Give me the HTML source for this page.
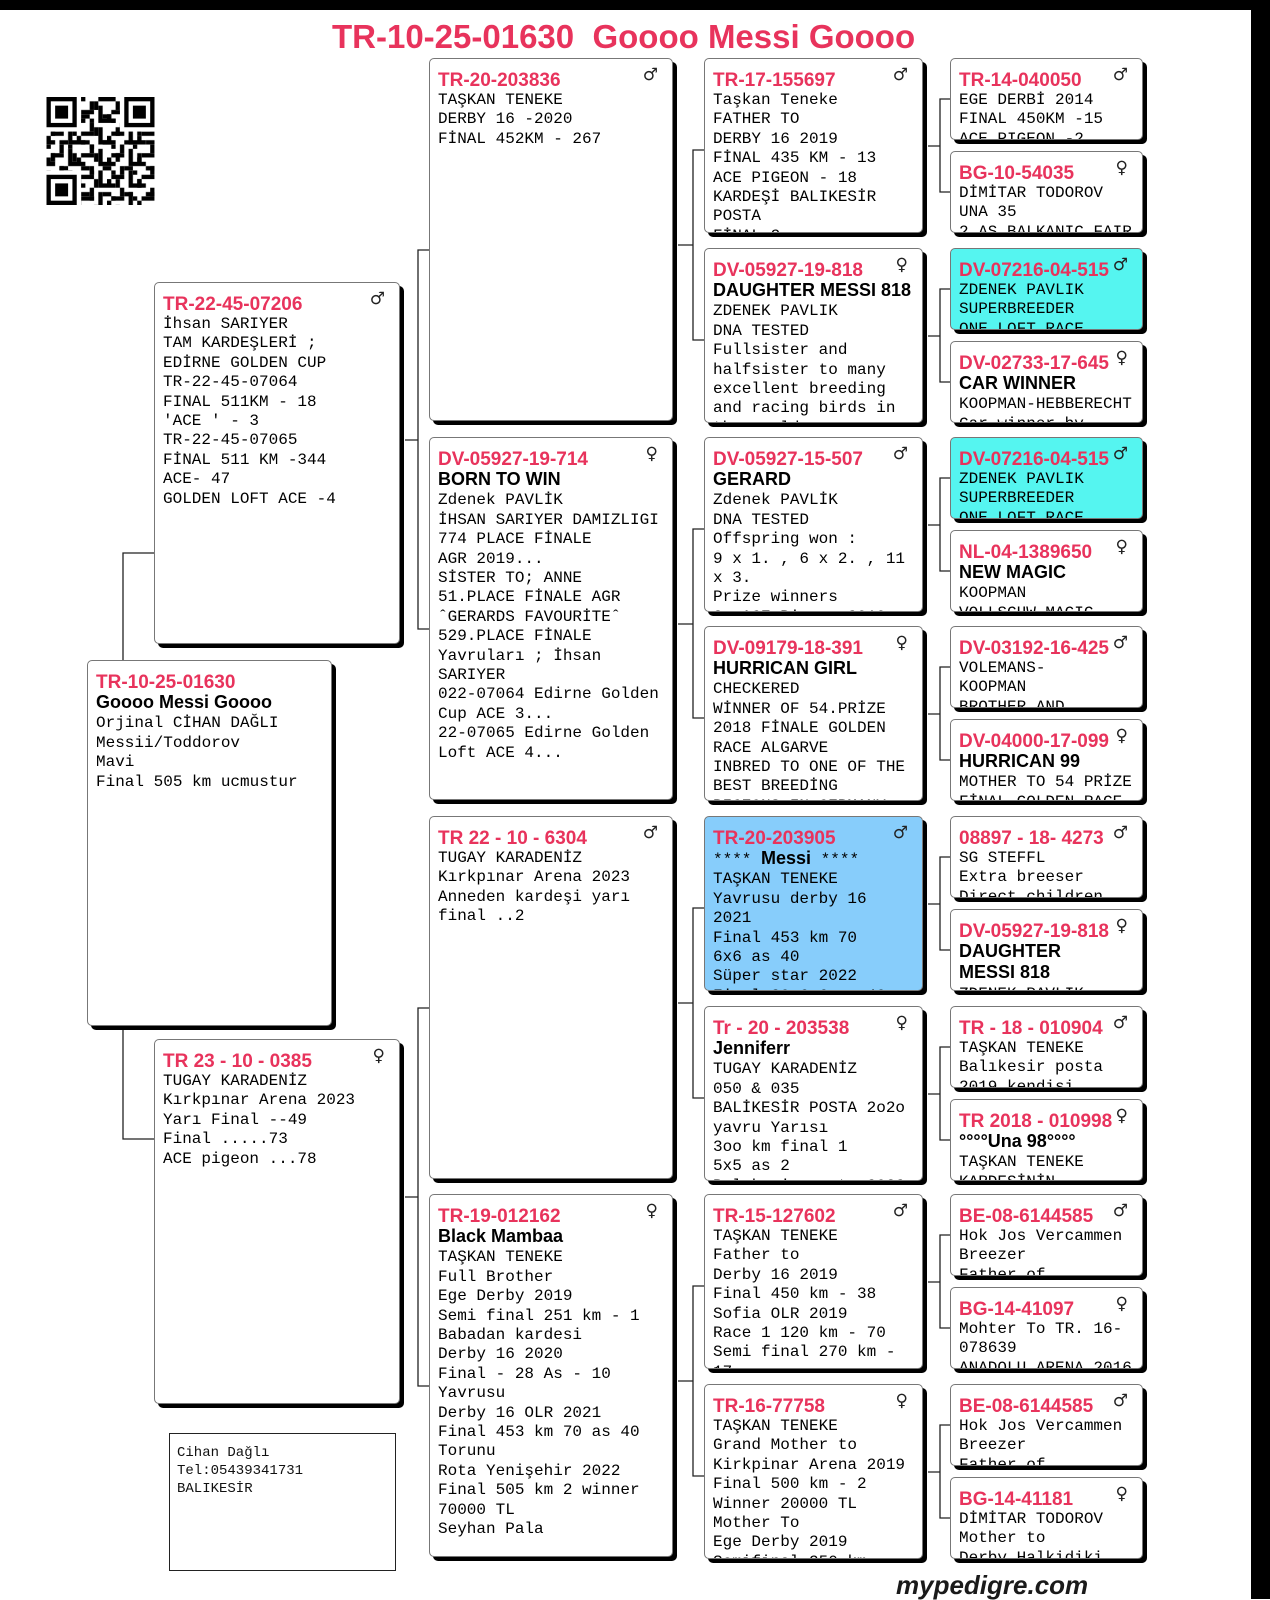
<!DOCTYPE html>
<html><head><meta charset="utf-8">
<style>
html,body{margin:0;padding:0}
body{width:1270px;height:1599px;position:relative;background:#fff;overflow:hidden;font-family:"Liberation Mono","Noto Sans CJK SC",monospace}
.b{position:absolute;background:#fff;border:1px solid #777;border-radius:5px;box-shadow:4px 4px 0 #000;overflow:hidden;padding:12px 4px 0 8px;box-sizing:border-box;font:16px/19.4px "Liberation Mono",monospace;color:#000;white-space:nowrap}
.id{color:#e8335c;font:bold 19px/20px "Liberation Sans",sans-serif;display:block}
.n{font:bold 18px/19.4px "Liberation Sans",sans-serif;color:#000}
.g{position:absolute;right:14px;top:6px;font:17px "DejaVu Sans",sans-serif;color:#222}
.c1{left:154px;width:246px}
.c2{left:429px;width:244px;height:363px}
.c3{left:704px;width:219px;height:175px}
.c4{left:950px;width:193px;height:82px}
.cy{background:#55f5f0}
.bl{background:#87cdfb}
</style></head><body>
<div style="position:absolute;left:0;top:0;width:1270px;height:10px;background:#000"></div>
<div style="position:absolute;left:1251px;top:0;width:19px;height:1599px;background:#000"></div>
<div style="position:absolute;left:332px;top:18px;color:#e8335c;font:bold 33px 'Liberation Sans',sans-serif;white-space:pre">TR-10-25-01630  Goooo Messi Goooo</div>

<svg style="position:absolute;left:46px;top:97px" width="109" height="108" viewBox="0 0 25 25">
<defs><pattern id="p" width="7" height="5" patternUnits="userSpaceOnUse"><rect x="0" y="0" width="2" height="1"/><rect x="3" y="1" width="1" height="2"/><rect x="5" y="0" width="2" height="1"/><rect x="1" y="3" width="3" height="1"/><rect x="5" y="2" width="1" height="3"/><rect x="0" y="4" width="1" height="1"/></pattern>
<pattern id="q" width="5" height="6" patternUnits="userSpaceOnUse"><rect x="1" y="1" width="1" height="2"/><rect x="3" y="4" width="2" height="1"/><rect x="0" y="5" width="1" height="1"/></pattern></defs>
<rect x="0" y="0" width="25" height="25" fill="url(#p)"/><rect x="0" y="0" width="25" height="25" fill="url(#q)"/>
<rect x="0" y="0" width="8" height="8" fill="#fff"/><rect x="17" y="0" width="8" height="8" fill="#fff"/><rect x="0" y="17" width="8" height="8" fill="#fff"/>
<g fill="none" stroke="#000" stroke-width="1"><rect x="0.5" y="0.5" width="6" height="6"/><rect x="18.5" y="0.5" width="6" height="6"/><rect x="0.5" y="18.5" width="6" height="6"/></g>
<rect x="2" y="2" width="3" height="3"/><rect x="20" y="2" width="3" height="3"/><rect x="2" y="20" width="3" height="3"/>
</svg>

<svg style="position:absolute;left:0;top:0" width="1270" height="1599" fill="none" stroke="#222" stroke-width="1.3">
<path d="M154 553H123V660M123 1030V1139H154"/>
<path d="M429 250H418V629H429M405 440H418"/>
<path d="M429 1008H418V1386H429M405 1197H418"/>
<path d="M704 150H693V340H704M678 245H693"/>
<path d="M704 529H693V718H704M678 624H693"/>
<path d="M704 908H693V1098H704M678 1003H693"/>
<path d="M704 1286H693V1476H704M678 1381H693"/>
<path d="M950 99H940V192H950M928 146H940"/>
<path d="M950 289H940V382H950M928 336H940"/>
<path d="M950 478H940V571H950M928 525H940"/>
<path d="M950 667H940V760H950M928 714H940"/>
<path d="M950 857H940V950H950M928 904H940"/>
<path d="M950 1047H940V1140H950M928 1094H940"/>
<path d="M950 1235H940V1328H950M928 1282H940"/>
<path d="M950 1425H940V1518H950M928 1472H940"/>
</svg>

<div class="b" style="left:87px;top:660px;width:245px;height:366px"><span class="id">TR-10-25-01630</span><span class="n">Goooo Messi Goooo</span><br>Orjinal CİHAN DAĞLI<br>Messii/Toddorov<br>Mavi<br>Final 505 km ucmustur</div>

<div class="b c1" style="top:282px;height:362px"><span class="g">♂</span><span class="id">TR-22-45-07206</span>İhsan SARIYER<br>TAM KARDEŞLERİ ;<br>EDİRNE GOLDEN CUP<br>TR-22-45-07064<br>FINAL 511KM - 18<br>'ACE ' - 3<br>TR-22-45-07065<br>FİNAL 511 KM -344<br>ACE- 47<br>GOLDEN LOFT ACE -4</div>
<div class="b c1" style="top:1039px;height:365px"><span class="g">♀</span><span class="id">TR 23 - 10 - 0385</span>TUGAY KARADENİZ<br>Kırkpınar Arena 2023<br>Yarı Final --49<br>Final .....73<br>ACE pigeon ...78</div>

<div class="b c2" style="top:58px"><span class="g">♂</span><span class="id">TR-20-203836</span>TAŞKAN TENEKE<br>DERBY 16 -2020<br>FİNAL 452KM - 267</div>
<div class="b c2" style="top:437px"><span class="g">♀</span><span class="id">DV-05927-19-714</span><span class="n">BORN TO WIN</span><br>Zdenek PAVLİK<br>İHSAN SARIYER DAMIZLIGI<br>774 PLACE FİNALE<br>AGR 2019...<br>SİSTER TO; ANNE<br>51.PLACE FİNALE AGR<br>ˆGERARDS FAVOURİTEˆ<br>529.PLACE FİNALE<br>Yavruları ; İhsan<br>SARIYER<br>022-07064 Edirne Golden<br>Cup  ACE 3...<br>22-07065 Edirne Golden<br>Loft ACE 4...</div>
<div class="b c2" style="top:816px"><span class="g">♂</span><span class="id">TR 22 - 10 - 6304</span>TUGAY KARADENİZ<br>Kırkpınar Arena 2023<br>Anneden kardeşi yarı<br>final ..2</div>
<div class="b c2" style="top:1194px"><span class="g">♀</span><span class="id">TR-19-012162</span><span class="n">Black Mambaa</span><br>TAŞKAN TENEKE<br>Full Brother<br>Ege Derby 2019<br>Semi final 251 km - 1<br>Babadan kardesi<br>Derby 16 2020<br>Final - 28 As - 10<br>Yavrusu<br>Derby 16 OLR 2021<br>Final 453 km 70 as 40<br>Torunu<br>Rota Yenişehir 2022<br>Final 505 km 2 winner<br>70000 TL<br>Seyhan Pala</div>

<div class="b c3" style="top:58px"><span class="g">♂</span><span class="id">TR-17-155697</span>Taşkan Teneke<br>FATHER TO<br>DERBY 16 2019<br>FİNAL 435 KM - 13<br>ACE PIGEON  - 18<br>KARDEŞİ BALIKESİR<br>POSTA<br>FİNAL-2</div>
<div class="b c3" style="top:248px"><span class="g">♀</span><span class="id">DV-05927-19-818</span><span class="n">DAUGHTER MESSI 818</span><br>ZDENEK PAVLIK<br>DNA TESTED<br>Fullsister and<br>halfsister to many<br>excellent breeding<br>and racing birds in<br>the world</div>
<div class="b c3" style="top:437px"><span class="g">♂</span><span class="id">DV-05927-15-507</span><span class="n">GERARD</span><br>Zdenek PAVLİK<br>DNA TESTED<br>Offspring won :<br>9 x 1. , 6 x 2. , 11<br>x 3.<br>Prize winners<br>2. ACE Pigeon 2019</div>
<div class="b c3" style="top:626px"><span class="g">♀</span><span class="id">DV-09179-18-391</span><span class="n">HURRICAN GIRL</span><br>CHECKERED<br>WİNNER OF 54.PRİZE<br>2018 FİNALE GOLDEN<br>RACE ALGARVE<br>INBRED TO ONE OF THE<br>BEST BREEDİNG<br>PIGEONS IN GERMANY</div>
<div class="b c3 bl" style="top:816px"><span class="g">♂</span><span class="id">TR-20-203905</span>**** <span class="n">Messi</span> ****<br>TAŞKAN TENEKE<br>Yavrusu derby 16<br>2021<br>Final 453 km 70<br>6x6 as 40<br>Süper star 2022<br>Final 20 6 6 as 40</div>
<div class="b c3" style="top:1006px"><span class="g">♀</span><span class="id">Tr - 20 - 203538</span><span class="n">Jenniferr</span><br>TUGAY KARADENİZ<br>050 &amp; 035<br>BALİKESİR POSTA 2o2o<br>yavru Yarısı<br>3oo km final 1<br>5x5 as 2<br>Balıkesir posta 2022</div>
<div class="b c3" style="top:1194px"><span class="g">♂</span><span class="id">TR-15-127602</span>TAŞKAN TENEKE<br>Father to<br>Derby 16 2019<br>Final 450 km - 38<br>Sofia OLR 2019<br>Race 1 120 km - 70<br>Semi final 270 km -<br>17</div>
<div class="b c3" style="top:1384px"><span class="g">♀</span><span class="id">TR-16-77758</span>TAŞKAN TENEKE<br>Grand Mother to<br>Kirkpinar Arena 2019<br>Final 500 km - 2<br>Winner 20000 TL<br>Mother To<br>Ege Derby 2019<br>Semifinal 250 km -</div>

<div class="b c4" style="top:58px"><span class="g">♂</span><span class="id">TR-14-040050</span>EGE DERBİ 2014<br>FINAL 450KM -15<br>ACE PIGEON -2</div>
<div class="b c4" style="top:151px"><span class="g">♀</span><span class="id">BG-10-54035</span>DİMİTAR TODOROV<br>UNA 35<br>2 AS BALKANIC FAIR</div>
<div class="b c4 cy" style="top:248px"><span class="g">♂</span><span class="id">DV-07216-04-515</span>ZDENEK PAVLIK<br>SUPERBREEDER<br>ONE LOFT RACE</div>
<div class="b c4" style="top:341px"><span class="g">♀</span><span class="id">DV-02733-17-645</span><span class="n">CAR WINNER</span><br>KOOPMAN-HEBBERECHT<br>Car winner by</div>
<div class="b c4 cy" style="top:437px"><span class="g">♂</span><span class="id">DV-07216-04-515</span>ZDENEK PAVLIK<br>SUPERBREEDER<br>ONE LOFT RACE</div>
<div class="b c4" style="top:530px"><span class="g">♀</span><span class="id">NL-04-1389650</span><span class="n">NEW MAGIC</span><br>KOOPMAN<br>VOLLSCHW MAGIC</div>
<div class="b c4" style="top:626px"><span class="g">♂</span><span class="id">DV-03192-16-425</span>VOLEMANS-<br>KOOPMAN<br>BROTHER AND</div>
<div class="b c4" style="top:719px"><span class="g">♀</span><span class="id">DV-04000-17-099</span><span class="n">HURRICAN 99</span><br>MOTHER TO 54 PRİZE<br>FİNAL GOLDEN RACE</div>
<div class="b c4" style="top:816px"><span class="g">♂</span><span class="id">08897 - 18- 4273</span>SG STEFFL<br>Extra breeser<br>Direct children</div>
<div class="b c4" style="top:909px"><span class="g">♀</span><span class="id">DV-05927-19-818</span><span class="n">DAUGHTER</span><br><span class="n">MESSI 818</span><br>ZDENEK PAVLIK</div>
<div class="b c4" style="top:1006px"><span class="g">♂</span><span class="id">TR - 18 - 010904</span>TAŞKAN TENEKE<br>Balıkesir posta<br>2019 kendisi</div>
<div class="b c4" style="top:1099px"><span class="g">♀</span><span class="id">TR 2018 - 010998</span><span class="n">°°°°Una 98°°°°</span><br>TAŞKAN TENEKE<br>KARDEŞİNİN</div>
<div class="b c4" style="top:1194px"><span class="g">♂</span><span class="id">BE-08-6144585</span>Hok Jos Vercammen<br>Breezer<br>Father of</div>
<div class="b c4" style="top:1287px"><span class="g">♀</span><span class="id">BG-14-41097</span>Mohter To TR. 16-<br>078639<br>ANADOLU ARENA 2016</div>
<div class="b c4" style="top:1384px"><span class="g">♂</span><span class="id">BE-08-6144585</span>Hok Jos Vercammen<br>Breezer<br>Father of</div>
<div class="b c4" style="top:1477px"><span class="g">♀</span><span class="id">BG-14-41181</span>DİMİTAR TODOROV<br>Mother to<br>Derby Halkidiki</div>

<div style="position:absolute;left:169px;top:1433px;width:227px;height:138px;border:1px solid #222;box-sizing:border-box;padding:10px 0 0 7px;font:14px/18px 'Liberation Mono',monospace;color:#111">Cihan Dağlı<br>Tel:05439341731<br>BALIKESİR</div>

<div style="position:absolute;left:896px;top:1571px;font:italic bold 26px/28px 'Liberation Sans',sans-serif;color:#1a1a1a">mypedigre.com</div>
</body></html>
